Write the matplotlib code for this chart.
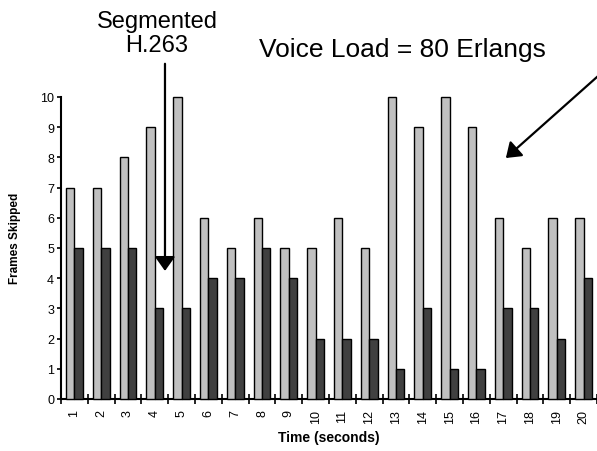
import numpy as np
import matplotlib
matplotlib.use("Agg")
import matplotlib.pyplot as plt
from matplotlib.ticker import FixedLocator

plt.rcParams['font.family'] = ['Liberation Sans', 'DejaVu Sans']

seconds = list(range(1, 21))
# light bars (unsegmented) and dark bars (segmented H.263)
light_skipped = [7, 7, 8, 9, 10, 6, 5, 6, 5, 5, 6, 5, 10, 9, 10, 9, 6, 5, 6, 6]
dark_skipped = [5, 5, 5, 3, 3, 4, 4, 5, 4, 2, 2, 2, 1, 3, 1, 1, 3, 3, 2, 4]

fig = plt.figure(figsize=(5.97, 4.52), dpi=100)
ax = fig.add_axes([61/597, 52/452, 536/597, 302/452])

x = np.array(seconds)
w = 0.31
ax.bar(x - w/2, light_skipped, w, color='#C0C0C0', edgecolor='black', linewidth=1.0, clip_on=False, zorder=3)
ax.bar(x + w/2, dark_skipped, w, color='#404040', edgecolor='black', linewidth=1.0, clip_on=False, zorder=3)

ax.set_xlim(0.5, 20.5)
ax.set_ylim(0, 10)
ax.set_yticks(range(0, 11))
ax.set_xticks(x)
ax.set_xticklabels([str(s) for s in seconds], rotation=90, fontsize=9)
ax.xaxis.set_minor_locator(FixedLocator(np.arange(0.5, 21, 1)))
ax.tick_params(axis='x', which='major', length=0, pad=7)
ax.tick_params(axis='x', which='minor', direction='inout', length=7, width=1.2)
ax.tick_params(axis='y', direction='out', length=3, width=1.2, labelsize=9, pad=2)

for s in ['top', 'right']:
    ax.spines[s].set_visible(False)
for s in ['left', 'bottom']:
    ax.spines[s].set_linewidth(1.5)

ax.set_ylabel('Frames Skipped', fontsize=8.5, fontweight='bold')
ax.yaxis.set_label_coords(-0.075, 0.536)
ax.set_xlabel('Time (seconds)', fontsize=10, fontweight='bold', labelpad=5)

ax.text(157/597, 1 - 34/452, 'Segmented\nH.263', transform=fig.transFigure,
        ha='center', va='center', fontsize=17, linespacing=1.15)
ax.text(402/597, 1 - 50/452, 'Voice Load = 80 Erlangs', transform=fig.transFigure,
        ha='center', va='center', fontsize=19)

arrow = dict(arrowstyle='-|>,head_length=0.86,head_width=0.61', mutation_scale=10,
             lw=1.6, color='black', shrinkA=0, shrinkB=0)
ax.annotate('', xy=(4.38, 4.24), xytext=(4.38, 11.1), arrowprops=arrow, annotation_clip=False)
ax.annotate('', xy=(17.1, 7.98), xytext=(20.8, 10.9), arrowprops=arrow, annotation_clip=False)

fig.savefig('out.png', dpi=100)
